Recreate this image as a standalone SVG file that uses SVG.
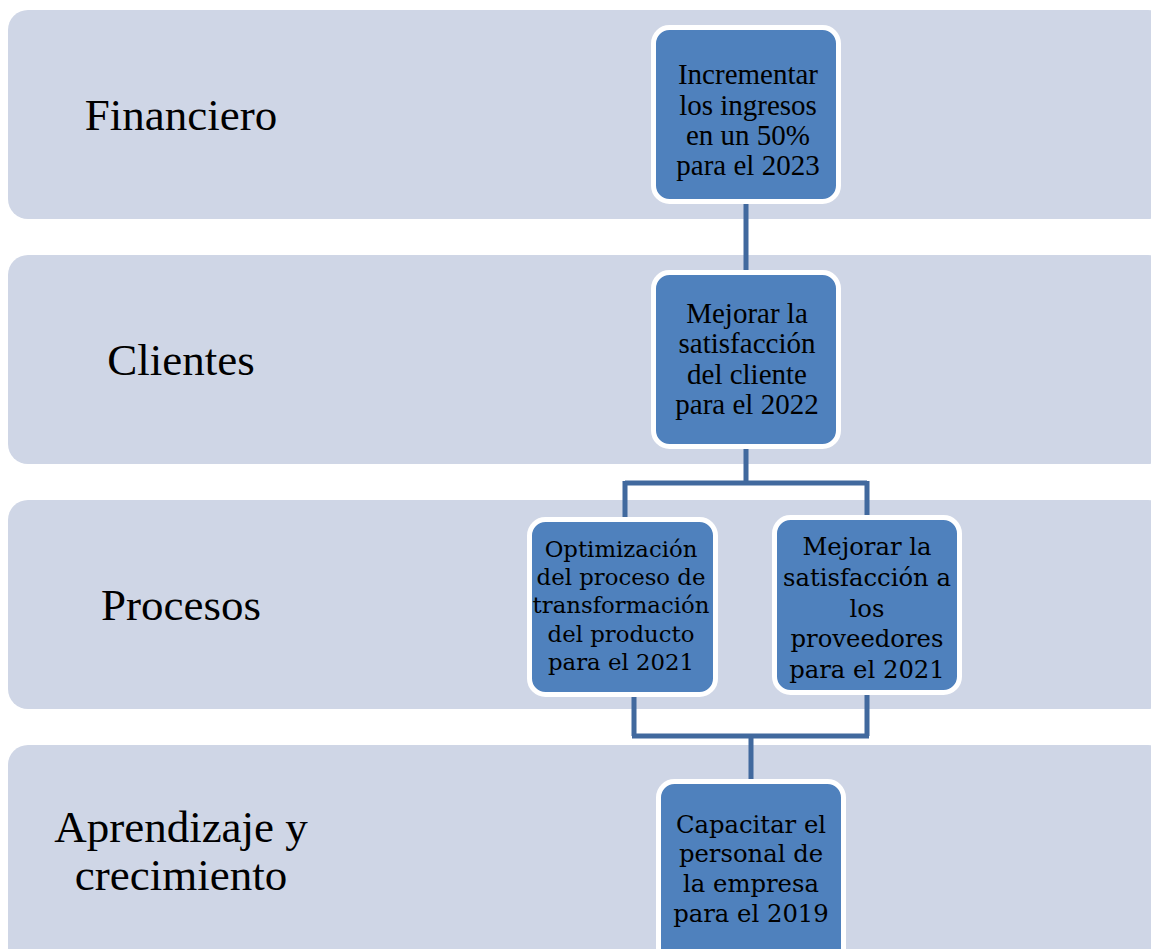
<svg xmlns="http://www.w3.org/2000/svg" width="1151" height="949" viewBox="0 0 1151 949">
<style>
.band{fill:#CFD6E6;}
.lbl{font-family:"Liberation Serif","Times New Roman",serif;font-size:45px;fill:#000;text-anchor:middle;}
.node{fill:#4F81BD;stroke:#FFFFFF;stroke-width:5;}
.t1{font-family:"Liberation Serif","Times New Roman",serif;font-size:29px;fill:#000;text-anchor:middle;}
.t2{font-family:"DejaVu Serif",serif;font-size:22.8px;fill:#000;text-anchor:middle;}
.t3{font-family:"DejaVu Serif",serif;font-size:24.3px;fill:#000;text-anchor:middle;}
.t4{font-family:"DejaVu Serif",serif;font-size:24.3px;fill:#000;text-anchor:middle;}
.con{fill:none;stroke:#41699E;stroke-width:5;stroke-linejoin:miter;}
</style>
<rect width="1151" height="949" fill="#FFFFFF"/>
<g id="band-financiero">
<rect class="band" x="8" y="10" width="1160" height="209" rx="20"/>
<text class="lbl" x="181" y="130">Financiero</text>
</g>
<g id="band-clientes">
<rect class="band" x="8" y="255" width="1160" height="209" rx="20"/>
<text class="lbl" x="181" y="375">Clientes</text>
</g>
<g id="band-procesos">
<rect class="band" x="8" y="500" width="1160" height="209" rx="20"/>
<text class="lbl" x="181" y="620">Procesos</text>
</g>
<g id="band-aprendizaje">
<rect class="band" x="8" y="745" width="1160" height="240" rx="20"/>
<text class="lbl" x="181" y="842">Aprendizaje y</text>
<text class="lbl" x="181" y="890">crecimiento</text>
</g>
<g id="connectors">
<path class="con" d="M746,204 V272"/>
<path class="con" d="M746,447 V483 M625,483 H867 M625,481 V517 M867,481 V515"/>
<path class="con" d="M634,697 V736 M867,695 V736 M632,736 H869 M751,736 V779"/>
</g>
<g id="node-ingresos">
<rect class="node" x="653.5" y="27.5" width="185" height="174" rx="16"/>
<text class="t1" x="748" y="84">Incrementar</text>
<text class="t1" x="748" y="115">los ingresos</text>
<text class="t1" x="748" y="145">en un 50%</text>
<text class="t1" x="748" y="175">para el 2023</text>
</g>
<g id="node-clientes">
<rect class="node" x="653.5" y="272.5" width="185" height="174" rx="16"/>
<text class="t1" x="747" y="323">Mejorar la</text>
<text class="t1" x="747" y="353">satisfacción</text>
<text class="t1" x="747" y="384">del cliente</text>
<text class="t1" x="747" y="414">para el 2022</text>
</g>
<g id="node-optimizacion">
<rect class="node" x="529.5" y="519.5" width="186" height="175" rx="16"/>
<text class="t2" x="621" y="557">Optimización</text>
<text class="t2" x="621" y="585">del proceso de</text>
<text class="t2" x="621" y="613">transformación</text>
<text class="t2" x="621" y="642">del producto</text>
<text class="t2" x="621" y="670">para el 2021</text>
</g>
<g id="node-proveedores">
<rect class="node" x="774.5" y="517.5" width="185" height="175" rx="16"/>
<text class="t3" x="867" y="555">Mejorar la</text>
<text class="t3" x="867" y="586">satisfacción a</text>
<text class="t3" x="867" y="617">los</text>
<text class="t3" x="867" y="647">proveedores</text>
<text class="t3" x="867" y="678">para el 2021</text>
</g>
<g id="node-capacitar">
<rect class="node" x="658.5" y="781.5" width="185" height="190" rx="16"/>
<text class="t4" x="751" y="833">Capacitar el</text>
<text class="t4" x="751" y="862">personal de</text>
<text class="t4" x="751" y="892">la empresa</text>
<text class="t4" x="751" y="922">para el 2019</text>
</g>
</svg>
